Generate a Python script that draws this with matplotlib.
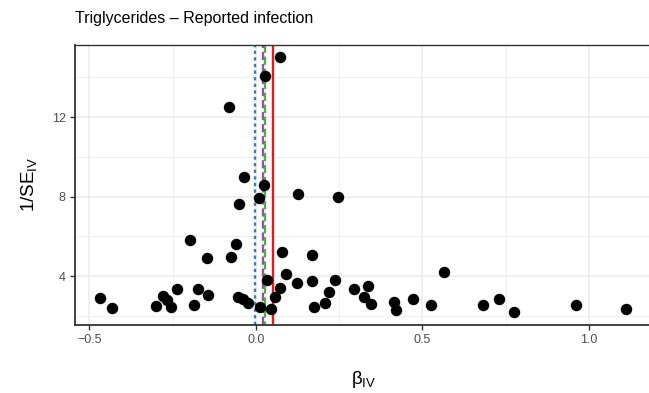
import matplotlib
matplotlib.use("Agg")
import matplotlib.pyplot as plt
from matplotlib.ticker import FixedLocator

plt.rcParams['font.family'] = ['Liberation Sans', 'DejaVu Sans']
plt.rcParams['mathtext.fontset'] = 'custom'
plt.rcParams['mathtext.rm'] = 'Liberation Sans'
plt.rcParams['mathtext.it'] = 'Liberation Sans:italic'

title = "Triglycerides \u2013 Reported infection"

beta_iv = [-0.467, -0.432, -0.301, -0.278, -0.268, -0.255, -0.236, -0.197, -0.187, -0.174,
           -0.146, -0.144, -0.080, -0.074, -0.059, -0.053, -0.050, -0.040, -0.035, -0.025,
           0.008, 0.012, 0.024, 0.027, 0.034, 0.044, 0.057, 0.072, 0.072, 0.078,
           0.090, 0.124, 0.125, 0.168, 0.168, 0.175, 0.206, 0.218, 0.237, 0.245,
           0.295, 0.325, 0.335, 0.344, 0.415, 0.420, 0.473, 0.526, 0.565, 0.681,
           0.731, 0.774, 0.960, 1.110]
inv_se = [2.91, 2.37, 2.50, 2.99, 2.79, 2.44, 3.33, 5.81, 2.52, 3.33,
          4.89, 3.06, 12.50, 4.97, 5.60, 2.93, 7.61, 2.84, 8.97, 2.62,
          7.93, 2.45, 8.58, 14.08, 3.80, 2.32, 2.93, 15.02, 3.38, 5.19,
          4.09, 3.66, 8.12, 5.06, 3.76, 2.45, 2.62, 3.21, 3.80, 7.96,
          3.33, 2.96, 3.50, 2.59, 2.71, 2.29, 2.86, 2.54, 4.19, 2.54,
          2.83, 2.17, 2.52, 2.32]

# estimates (vertical reference lines)
est_names = ["zero", "weighted_mode", "weighted_median", "ivw"]
est_values = [-0.004, 0.022, 0.028, 0.050]
est_colors = ["#377EB8", "#984EA3", "#4DAF4A", "#E41A1C"]
est_styles = [(0, (1.4, 1.4)), (0, (3.5, 1.6)), (2.0, (3.5, 1.6)), "-"]

x_ticks = [-0.5, 0.0, 0.5, 1.0]
x_ticklabels = ["\u22120.5", "0.0", "0.5", "1.0"]
y_ticks = [4, 8, 12]

fig = plt.figure(figsize=(6.49, 3.93), dpi=100)
ax = fig.add_axes([74.9 / 649, (393 - 324.5) / 393, (652 - 74.9) / 649, (324.5 - 45) / 393])

ax.set_xlim(-0.5435, 1.189)
ax.set_ylim(1.56, 15.63)

ax.xaxis.set_major_locator(FixedLocator(x_ticks))
ax.xaxis.set_minor_locator(FixedLocator([-0.25, 0.25, 0.75]))
ax.yaxis.set_major_locator(FixedLocator(y_ticks))
ax.yaxis.set_minor_locator(FixedLocator([2, 6, 10, 14]))
ax.set_xticklabels(x_ticklabels)

ax.grid(which='major', color='#EBEBEB', linewidth=1.1, zorder=0)
ax.grid(which='minor', color='#EBEBEB', linewidth=0.55, zorder=0)
ax.set_axisbelow(True)

for s in ax.spines.values():
    s.set_color('#333333')
    s.set_linewidth(1.0)
ax.spines['left'].set_linewidth(1.3)
ax.spines['bottom'].set_linewidth(1.3)

ax.tick_params(which='major', length=3.5, width=1.0, color='#333333',
               labelcolor='#4D4D4D', labelsize=9, pad=3)
ax.tick_params(which='minor', length=0)

for v, c, ls in zip(est_values, est_colors, est_styles):
    ax.axvline(v, color=c, linestyle=ls, linewidth=1.7, zorder=2)

ax.scatter(beta_iv, inv_se, s=68, color='black', zorder=3, linewidths=0)

ax.set_xlabel(r'$\mathrm{\beta}_{\mathrm{IV}}$', fontsize=13.5, labelpad=17)
ax.set_ylabel(r'$\mathrm{1/SE}_{\mathrm{IV}}$', fontsize=13.5, labelpad=9)

fig.text(74.9 / 649, 1 - 19 / 393, title, fontsize=11.5, ha='left', va='center')

fig.savefig("out.png", dpi=100)
